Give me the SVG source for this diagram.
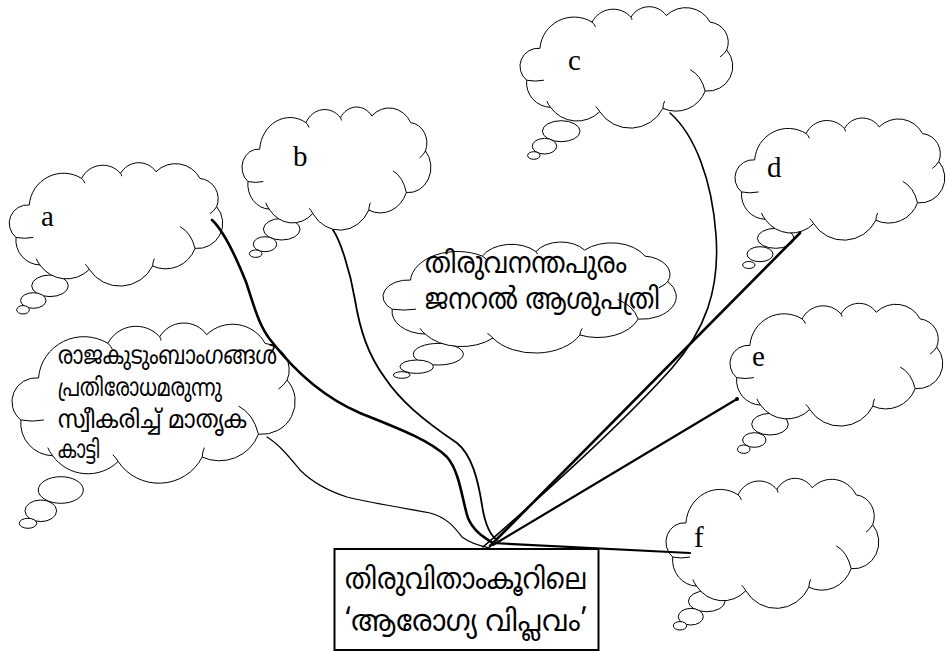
<svg xmlns="http://www.w3.org/2000/svg" xmlns:xlink="http://www.w3.org/1999/xlink" width="947" height="652" viewBox="0 0 947 652">
<style>
.cl{fill:#fff;stroke:#000;stroke-width:1;vector-effect:non-scaling-stroke}
.st{fill:none;stroke:#000;stroke-width:1;vector-effect:non-scaling-stroke}
.bb{fill:#fff;stroke:#000;stroke-width:1}
.lbl{font-family:'Liberation Serif','Times New Roman',serif;font-size:29px;fill:#000}
.ml{font-family:'Noto Sans Malayalam','Noto Sans',sans-serif;fill:#000}
.cn{fill:none;stroke:#000;stroke-linecap:round;stroke-linejoin:round}
</style>
<defs>
<g id="cloud">
<path class="cl" d="M6.7,74.7 A18.3,18.3 0 0 1 20,42.3 A34.3,34.3 0 0 1 72.3,15.7 A23.6,23.6 0 0 1 111.3,10.7 A20.9,20.9 0 0 1 146.7,9 A27.7,27.7 0 0 1 190.7,15.7 A20.5,20.5 0 0 1 207.3,44 A25.3,25.3 0 0 1 185.7,85.7 A31.3,31.3 0 0 1 143.3,103.3 A36.5,36.5 0 0 1 80,106.7 A32.2,32.2 0 0 1 30.7,102.3 A25,25 0 0 1 6.7,74.7 Z"/>
<path class="st" d="M6.7,74.7 Q15,76.5 24,74.7 M72.3,15.7 Q74.5,17.5 75.7,20.5 M111.3,10.7 Q112.3,12 112.3,13.5 M207.3,44 Q205,48 200.7,51 M170.7,64 Q182,70 185.7,85.7 M143.3,103.3 Q143.5,99 145,96 M80,106.7 Q78,103.5 76,101.5 M30.7,102.3 Q28,99 27,96"/>
</g>
</defs>

<g id="node-a">
<ellipse class="bb" cx="50" cy="285.8" rx="18.3" ry="10.8"/>
<ellipse class="bb" cx="33.3" cy="300.5" rx="12.7" ry="7.8"/>
<ellipse class="bb" cx="23" cy="309.8" rx="6.3" ry="4.2"/>
<use xlink:href="#cloud" transform="translate(9.3,162.7)"/>
<text class="lbl" x="41" y="226">a</text>
</g>

<g id="node-b">
<ellipse class="bb" cx="281.7" cy="229.2" rx="18.3" ry="10.8"/>
<ellipse class="bb" cx="265" cy="244.2" rx="11.7" ry="7.5"/>
<ellipse class="bb" cx="255.7" cy="253.7" rx="6.3" ry="3.7"/>
<use xlink:href="#cloud" transform="translate(242,107) scale(0.885,0.998)"/>
<text class="lbl" x="293" y="166">b</text>
</g>

<g id="node-c">
<ellipse class="bb" cx="561.2" cy="131.2" rx="18.8" ry="10.5"/>
<ellipse class="bb" cx="544.5" cy="146.2" rx="12.2" ry="7.8"/>
<ellipse class="bb" cx="533.8" cy="155.5" rx="6.2" ry="3.8"/>
<use xlink:href="#cloud" transform="translate(520,6.7) scale(0.997,0.984)"/>
<text class="lbl" x="568" y="70">c</text>
</g>

<g id="node-d">
<ellipse class="bb" cx="775.7" cy="238.3" rx="18.3" ry="10"/>
<ellipse class="bb" cx="760" cy="254.2" rx="13" ry="7.5"/>
<ellipse class="bb" cx="748.8" cy="265" rx="6.2" ry="3.5"/>
<use xlink:href="#cloud" transform="translate(735,118) scale(0.983,0.99)"/>
<text class="lbl" x="767" y="177">d</text>
</g>

<g id="node-e">
<ellipse class="bb" cx="770" cy="424.2" rx="18.3" ry="10.8"/>
<ellipse class="bb" cx="754.3" cy="440" rx="11.7" ry="7.3"/>
<ellipse class="bb" cx="743.7" cy="449.2" rx="6.3" ry="4.2"/>
<use xlink:href="#cloud" transform="translate(730,303.3) scale(0.997,0.995)"/>
<text class="lbl" x="752" y="366">e</text>
</g>

<g id="node-f">
<ellipse class="bb" cx="706.7" cy="601.2" rx="18.3" ry="10.5"/>
<ellipse class="bb" cx="690.8" cy="616.7" rx="12.5" ry="8.3"/>
<ellipse class="bb" cx="680" cy="625.8" rx="6.7" ry="4.2"/>
<use xlink:href="#cloud" transform="translate(666,478.3) scale(0.997,1.054)"/>
<text class="lbl" x="694" y="547">f</text>
</g>

<g id="node-hospital">
<ellipse class="bb" cx="438.3" cy="354.2" rx="25" ry="10.8"/>
<ellipse class="bb" cx="416.7" cy="366.7" rx="16.7" ry="6.7"/>
<ellipse class="bb" cx="401.7" cy="375" rx="8.3" ry="3.3"/>
<use xlink:href="#cloud" transform="translate(383,242) scale(1.374,0.9)"/>
<text class="ml" font-size="30" x="425" y="273" textLength="202" lengthAdjust="spacingAndGlyphs">തിരുവനന്തപുരം</text>
<text class="ml" font-size="30" x="425" y="309" textLength="235" lengthAdjust="spacingAndGlyphs">ജനറൽ ആശുപത്രി</text>
</g>

<g id="node-royal">
<ellipse class="bb" cx="60.8" cy="490" rx="22.5" ry="13.3"/>
<ellipse class="bb" cx="40.8" cy="510.8" rx="15.8" ry="10.8"/>
<ellipse class="bb" cx="28" cy="523.3" rx="8.7" ry="5"/>
<use xlink:href="#cloud" transform="translate(12,323) scale(1.327,1.298)"/>
<text class="ml" font-size="25" x="58" y="364" textLength="219" lengthAdjust="spacingAndGlyphs">രാജകുടുംബാംഗങ്ങൾ</text>
<text class="ml" font-size="25" x="58" y="396" textLength="164" lengthAdjust="spacingAndGlyphs">പ്രതിരോധമരുന്നു</text>
<text class="ml" font-size="25" x="58" y="428" textLength="189" lengthAdjust="spacingAndGlyphs">സ്വീകരിച്ച് മാതൃക</text>
<text class="ml" font-size="25" x="58" y="458" textLength="42" lengthAdjust="spacingAndGlyphs">കാട്ടി</text>
</g>

<g id="connectors">
<path class="cn" stroke-width="2.6" d="M212,220 C225,232 238,262 246,282 C254,305 258,325 272,342 C290,365 318,395 360,413 C395,427 430,440 447,457 C460,472 462,500 468,518 C474,532 485,538 493,543"/>
<path class="cn" stroke-width="1.8" d="M333,230 C340,240 350,270 355,300 C360,330 368,355 385,378 C400,400 420,418 457,443 C472,455 478,480 482,505 C485,525 490,535 497,540"/>
<path class="cn" stroke-width="1.2" d="M267,437 C280,445 290,458 300,470 C310,480 325,490 347,497 C370,503 400,507 430,513 C448,518 455,528 462,537 C470,543 480,546 490,548"/>
<path class="cn" stroke-width="1.6" d="M670,113 C695,135 712,180 716,235 C720,290 705,330 672,368 C630,415 560,480 483,547"/>
<path class="cn" stroke-width="2.6" d="M800,233 L490,546"/>
<path class="cn" stroke-width="2.2" d="M737,399 L493,545"/>
<circle cx="737" cy="399" r="2"/>
<path class="cn" stroke-width="2.2" d="M492,543 L690,553"/>
</g>

<g id="node-main">
<rect x="334.5" y="549" width="264" height="101" fill="#fff" stroke="#000" stroke-width="2"/>
<text class="ml" font-size="30" x="345" y="589" textLength="242" lengthAdjust="spacingAndGlyphs">തിരുവിതാംകൂറിലെ</text>
<text class="ml" font-size="30" x="345" y="631" textLength="242" lengthAdjust="spacingAndGlyphs">‘ആരോഗ്യ വിപ്ലവം’</text>
</g>
</svg>
